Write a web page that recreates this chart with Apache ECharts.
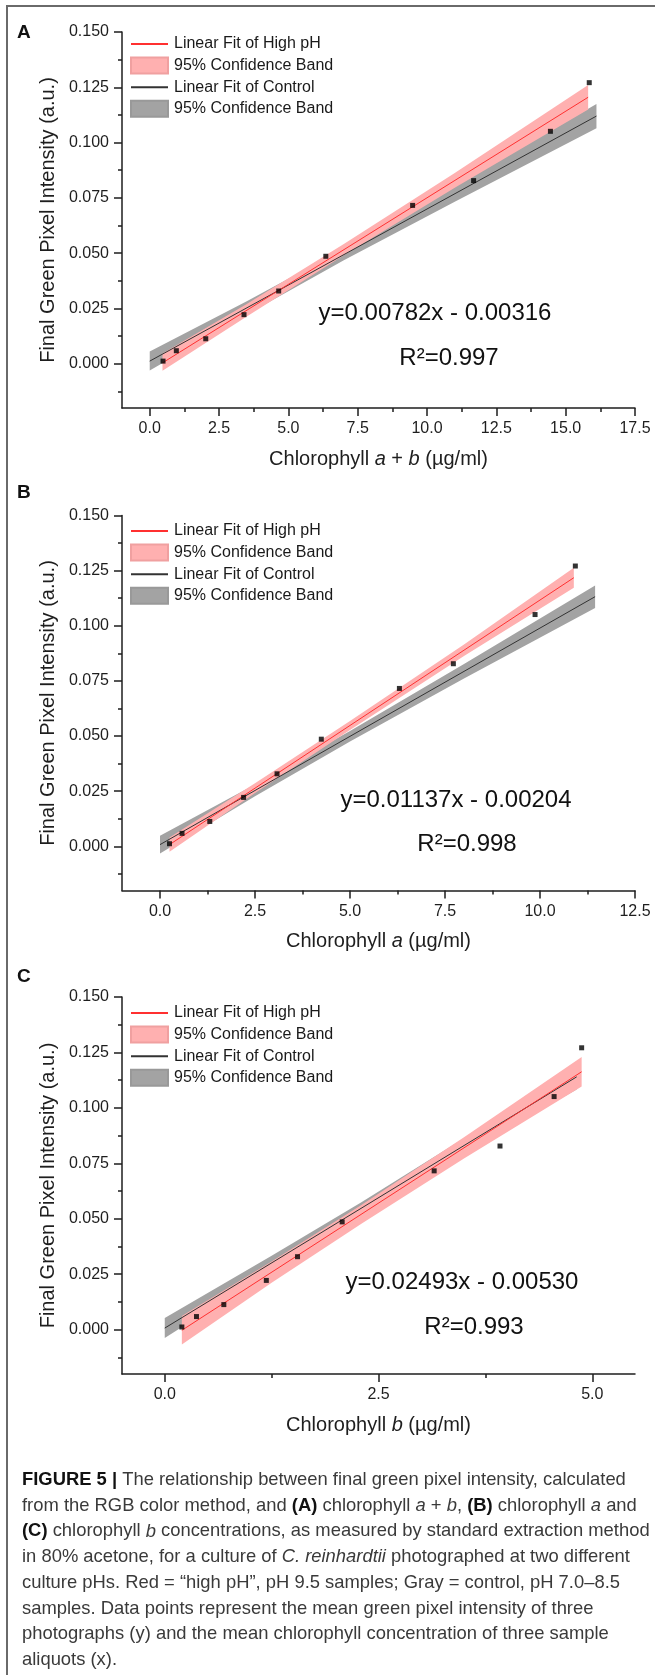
<!DOCTYPE html>
<html><head><meta charset="utf-8">
<script src="https://cdn.jsdelivr.net/npm/echarts@6/dist/echarts.min.js"></script>
<style>html,body{margin:0;padding:0;background:#fff}#c{width:655px;height:1675px}</style>
</head><body><div id="c"></div>
<script>
// ---------------- DATA ----------------
const panelIds = ['A', 'B', 'C'];
const xAxisTitles = ['Chlorophyll {i|a} + {i|b} (µg/ml)', 'Chlorophyll {i|a} (µg/ml)', 'Chlorophyll {i|b} (µg/ml)'];
const yAxisTitle = 'Final Green Pixel Intensity (a.u.)';
const yTicks = [0, 0.025, 0.05, 0.075, 0.1, 0.125, 0.15];
const yMinorTicks = [-0.0125, 0.0125, 0.0375, 0.0625, 0.0875, 0.1125, 0.1375];
const yRange = [-0.02, 0.15];
const xTicksA = [0, 2.5, 5, 7.5, 10, 12.5, 15, 17.5];
const xMinorA = [1.25, 3.75, 6.25, 8.75, 11.25, 13.75, 16.25];
const xTicksB = [0, 2.5, 5, 7.5, 10, 12.5];
const xMinorB = [1.25, 3.75, 6.25, 8.75, 11.25];
const xTicksC = [0, 2.5, 5];
const xMinorC = [1.25, 3.75];
const xRangeA = [-1, 17.5], xRangeB = [-1, 12.5], xRangeC = [-0.5, 5.5];

// mean green pixel intensity (same samples in all panels)
const greenIntensity = [0.0012, 0.0059, 0.0113, 0.0222, 0.0329, 0.0486, 0.0716, 0.0828, 0.1051, 0.1271];
const chlAB = [0.48, 0.96, 2.02, 3.40, 4.65, 6.35, 9.48, 11.68, 14.45, 15.85];
const chlA  = [0.25, 0.58, 1.31, 2.20, 3.08, 4.245, 6.30, 7.72, 9.87, 10.93];
const chlB  = [0.20, 0.371, 0.691, 1.188, 1.553, 2.075, 3.151, 3.921, 4.554, 4.876];

// linear fits (endpoints) and 95% confidence bands
const fitHighA_x = [0.46, 15.81], fitHighA_y = [0.0004, 0.1205];
const fitCtrlA_x = [0, 16.11],    fitCtrlA_y = [0.0012, 0.1120];
const bandHighA_x = [0.46, 3.5, 7, 11, 15.81];
const bandHighA_lo = [-0.0032, 0.0214, 0.0491, 0.0796, 0.1150];
const bandHighA_hi = [0.0046, 0.0270, 0.0541, 0.0862, 0.1260];
const bandCtrlA_x = [0, 3.5, 7, 11, 16.11];
const bandCtrlA_lo = [-0.0031, 0.0223, 0.0468, 0.0733, 0.1065];
const bandCtrlA_hi = [0.0055, 0.0283, 0.0520, 0.0805, 0.1175];

const fitHighB_x = [0.25, 10.89], fitHighB_y = [0.0008, 0.1218];
const fitCtrlB_x = [0, 11.45],    fitCtrlB_y = [0.0008, 0.1132];
const bandHighB_x = [0.25, 2.5, 5, 8, 10.89];
const bandHighB_lo = [-0.0024, 0.0242, 0.0528, 0.0863, 0.1173];
const bandHighB_hi = [0.0040, 0.0286, 0.0568, 0.0915, 0.1263];
const bandCtrlB_x = [0, 2.5, 5, 8, 11.45];
const bandCtrlB_lo = [-0.0032, 0.0227, 0.0475, 0.0761, 0.1081];
const bandCtrlB_hi = [0.0048, 0.0281, 0.0523, 0.0827, 0.1183];

const fitHighC_x = [0.2, 4.876], fitHighC_y = [-0.0003, 0.1163];
const fitCtrlC_x = [0, 4.818],   fitCtrlC_y = [0.0007, 0.1140];
const bandHighC_x = [0.2, 1.25, 2.3, 3.5, 4.876];
const bandHighC_lo = [-0.0067, 0.0211, 0.0478, 0.0772, 0.1096];
const bandHighC_hi = [0.0061, 0.0307, 0.0562, 0.0868, 0.1230];
const bandCtrlC_x = [0, 1.25, 2.3, 3.5, 4.818];
const bandCtrlC_lo = [-0.0038, 0.0269, 0.0521, 0.0797, 0.1083];
const bandCtrlC_hi = [0.0052, 0.0333, 0.0575, 0.0863, 0.1197];

const equations = ['y=0.00782x - 0.00316', 'y=0.01137x - 0.00204', 'y=0.02493x - 0.00530'];
const rSquared = ['R²=0.997', 'R²=0.998', 'R²=0.993'];
const legendLabels = {fitHigh: 'Linear Fit of High pH', bandHigh: '95% Confidence Band', fitCtrl: 'Linear Fit of Control', bandCtrl: '95% Confidence Band'};
const captionLines = [
  '{b|FIGURE 5 |} The relationship between final green pixel intensity, calculated',
  'from the RGB color method, and {b|(A)} chlorophyll {i|a} + {i|b}, {b|(B)} chlorophyll {i|a} and',
  '{b|(C)} chlorophyll {i|b} concentrations, as measured by standard extraction method',
  'in 80% acetone, for a culture of {i|C. reinhardtii} photographed at two different',
  'culture pHs. Red = “high pH”, pH 9.5 samples; Gray = control, pH 7.0–8.5',
  'samples. Data points represent the mean green pixel intensity of three',
  'photographs (y) and the mean chlorophyll concentration of three sample',
  'aliquots (x).'
];

// ---------------- LAYOUT / STYLE ----------------
const FONT = '"Liberation Sans", Arial, Helvetica, sans-serif';
const panels = [
  {x: chlAB, xr: xRangeA, ticks: xTicksA, minor: xMinorA, top: 32, height: 376, legendTop: 36,
   fitHigh: [fitHighA_x, fitHighA_y], fitCtrl: [fitCtrlA_x, fitCtrlA_y],
   bandHigh: [bandHighA_x, bandHighA_lo, bandHighA_hi], bandCtrl: [bandCtrlA_x, bandCtrlA_lo, bandCtrlA_hi],
   eq: [435, 313], r2: [449, 358], letter: [17, 33]},
  {x: chlA, xr: xRangeB, ticks: xTicksB, minor: xMinorB, top: 515.5, height: 375, legendTop: 523,
   fitHigh: [fitHighB_x, fitHighB_y], fitCtrl: [fitCtrlB_x, fitCtrlB_y],
   bandHigh: [bandHighB_x, bandHighB_lo, bandHighB_hi], bandCtrl: [bandCtrlB_x, bandCtrlB_lo, bandCtrlB_hi],
   eq: [456, 800], r2: [467, 844], letter: [17, 493]},
  {x: chlB, xr: xRangeC, ticks: xTicksC, minor: xMinorC, top: 997, height: 377, legendTop: 1005,
   fitHigh: [fitHighC_x, fitHighC_y], fitCtrl: [fitCtrlC_x, fitCtrlC_y],
   bandHigh: [bandHighC_x, bandHighC_lo, bandHighC_hi], bandCtrl: [bandCtrlC_x, bandCtrlC_lo, bandCtrlC_hi],
   eq: [462, 1282], r2: [474, 1327], letter: [17, 977]}
];
const AX = '#1e1e1e';
const RED = '#ff3030', PINK = '#ffb0b0', GRAY = '#a3a3a3';
const NOSYM = {color: 'rgba(0,0,0,0)', borderColor: 'rgba(0,0,0,0)', borderWidth: 0};

function bandRender(params, api) {
  if (params.dataIndexInside !== 0) return null;
  const n = params.dataInsideLength;
  const up = [], lo = [];
  for (let i = 0; i < n; i++) {
    const x = api.value(0, i);
    up.push(api.coord([x, api.value(2, i)]));
    lo.push(api.coord([x, api.value(1, i)]));
  }
  return {type: 'polygon', shape: {points: up.concat(lo.reverse())},
          style: {fill: api.visual('color'), blend: 'multiply'}};
}
const zip = (a, b) => a.map((v, i) => [v, b[i]]);
const zip3 = (a, b, c) => a.map((v, i) => [v, b[i], c[i]]);

const grid = [], xAxis = [], yAxis = [], series = [], legend = [], graphic = [];
panels.forEach((p, i) => {
  const id = panelIds[i];
  grid.push({left: 122, width: 513, top: p.top, height: p.height, containLabel: false});
  const tickStyle = {color: AX, width: 1.5};
  xAxis.push({type: 'value', gridIndex: i, min: p.xr[0], max: p.xr[1],
    name: xAxisTitles[i], nameLocation: 'middle', nameGap: 41,
    nameTextStyle: {fontSize: 20, fontFamily: FONT, color: AX,
      rich: {i: {fontSize: 20, fontFamily: FONT, fontStyle: 'italic', color: AX}}},
    axisLine: {show: true, onZero: false, lineStyle: {color: AX, width: 1.5}},
    axisTick: {show: true, inside: false, length: 8, lineStyle: tickStyle, customValues: p.ticks},
    axisLabel: {show: true, margin: 13, fontSize: 16, fontFamily: FONT, color: AX,
      customValues: p.ticks, formatter: v => Number(v).toFixed(1)},
    splitLine: {show: false}});
  xAxis.push({type: 'value', gridIndex: i, min: p.xr[0], max: p.xr[1], position: 'bottom',
    axisLine: {show: false, onZero: false}, axisLabel: {show: false}, splitLine: {show: false},
    axisTick: {show: true, inside: false, length: 4, lineStyle: tickStyle, customValues: p.minor}});
  yAxis.push({type: 'value', gridIndex: i, min: yRange[0], max: yRange[1],
    name: yAxisTitle, nameLocation: 'middle', nameGap: 55, nameRotate: 90,
    nameTextStyle: {fontSize: 20, fontFamily: FONT, color: AX},
    axisLine: {show: true, onZero: false, lineStyle: {color: AX, width: 1.5}},
    axisTick: {show: true, inside: false, length: 8, lineStyle: tickStyle, customValues: yTicks},
    axisLabel: {show: true, margin: 13, fontSize: 16, fontFamily: FONT, color: AX,
      customValues: yTicks, formatter: v => Number(v).toFixed(3)},
    splitLine: {show: false}});
  yAxis.push({type: 'value', gridIndex: i, min: yRange[0], max: yRange[1], position: 'left',
    axisLine: {show: false, onZero: false}, axisLabel: {show: false}, splitLine: {show: false},
    axisTick: {show: true, inside: false, length: 4, lineStyle: tickStyle, customValues: yMinorTicks}});

  const xi = 2 * i, yi = 2 * i;
  series.push({type: 'custom', name: id + 'bandCtrl', xAxisIndex: xi, yAxisIndex: yi,
    renderItem: bandRender, encode: {x: 0, y: [1, 2]}, clip: true, z: 1,
    itemStyle: {color: GRAY, borderColor: '#999', borderWidth: 1},
    data: zip3(p.bandCtrl[0], p.bandCtrl[1], p.bandCtrl[2])});
  series.push({type: 'custom', name: id + 'bandHigh', xAxisIndex: xi, yAxisIndex: yi,
    renderItem: bandRender, encode: {x: 0, y: [1, 2]}, clip: true, z: 2,
    itemStyle: {color: PINK, borderColor: '#f0a0a0', borderWidth: 1},
    data: zip3(p.bandHigh[0], p.bandHigh[1], p.bandHigh[2])});
  series.push({type: 'line', name: id + 'fitCtrl', xAxisIndex: xi, yAxisIndex: yi, z: 3,
    symbol: 'none', lineStyle: {color: '#333', width: 1}, itemStyle: {color: '#333'},
    data: zip(p.fitCtrl[0], p.fitCtrl[1])});
  series.push({type: 'line', name: id + 'fitHigh', xAxisIndex: xi, yAxisIndex: yi, z: 4,
    symbol: 'none', lineStyle: {color: RED, width: 1}, itemStyle: {color: RED},
    data: zip(p.fitHigh[0], p.fitHigh[1])});
  series.push({type: 'scatter', name: id + 'points', xAxisIndex: xi, yAxisIndex: yi, z: 5,
    symbol: 'rect', symbolSize: 5, itemStyle: {color: '#000'},
    data: zip(p.x, greenIntensity)});

  legend.push({left: 130, top: p.legendTop, orient: 'vertical', itemWidth: 37, itemHeight: 16,
    itemGap: 4.6, selectedMode: false, padding: 0,
    textStyle: {fontSize: 16, fontFamily: FONT, color: '#1a1a1a', padding: [0, 0, 0, 1]},
    formatter: n => legendLabels[n.slice(1)],
    data: [{name: id + 'fitHigh', itemStyle: NOSYM}, {name: id + 'bandHigh', icon: 'rect'},
           {name: id + 'fitCtrl', itemStyle: NOSYM}, {name: id + 'bandCtrl', icon: 'rect'}]});

  graphic.push({type: 'text', x: p.letter[0], y: p.letter[1], z: 10,
    style: {text: id, fontSize: 19, fontWeight: 'bold', fontFamily: FONT, fill: '#111', verticalAlign: 'middle'}});
  graphic.push({type: 'text', x: p.eq[0], y: p.eq[1], z: 10,
    style: {text: equations[i], fontSize: 24, fontFamily: FONT, fill: '#111', align: 'center', verticalAlign: 'middle'}});
  graphic.push({type: 'text', x: p.r2[0], y: p.r2[1], z: 10,
    style: {text: rSquared[i], fontSize: 24, fontFamily: FONT, fill: '#111', align: 'center', verticalAlign: 'middle'}});
});

// frame
graphic.push({type: 'rect', shape: {x: 7, y: 6, width: 700, height: 1720}, z: 0,
  style: {fill: 'none', stroke: '#6a6a6a', lineWidth: 2}});
// caption
captionLines.forEach((t, k) => {
  graphic.push({type: 'text', x: 22, y: 1480 + k * 25.7, z: 10,
    style: {text: t, fontSize: 18.4, fontFamily: FONT, fill: '#3a3a3a', verticalAlign: 'middle',
      rich: {b: {fontSize: 18.4, fontFamily: FONT, fontWeight: 'bold', fill: '#111'},
             i: {fontSize: 18.4, fontFamily: FONT, fontStyle: 'italic', fill: '#3a3a3a'}}}});
});

const chart = echarts.init(document.getElementById('c'), null, {renderer: 'canvas', width: 655, height: 1675});
chart.setOption({animation: false, backgroundColor: '#fff', grid, xAxis, yAxis, series, legend, graphic});
</script></body></html>
